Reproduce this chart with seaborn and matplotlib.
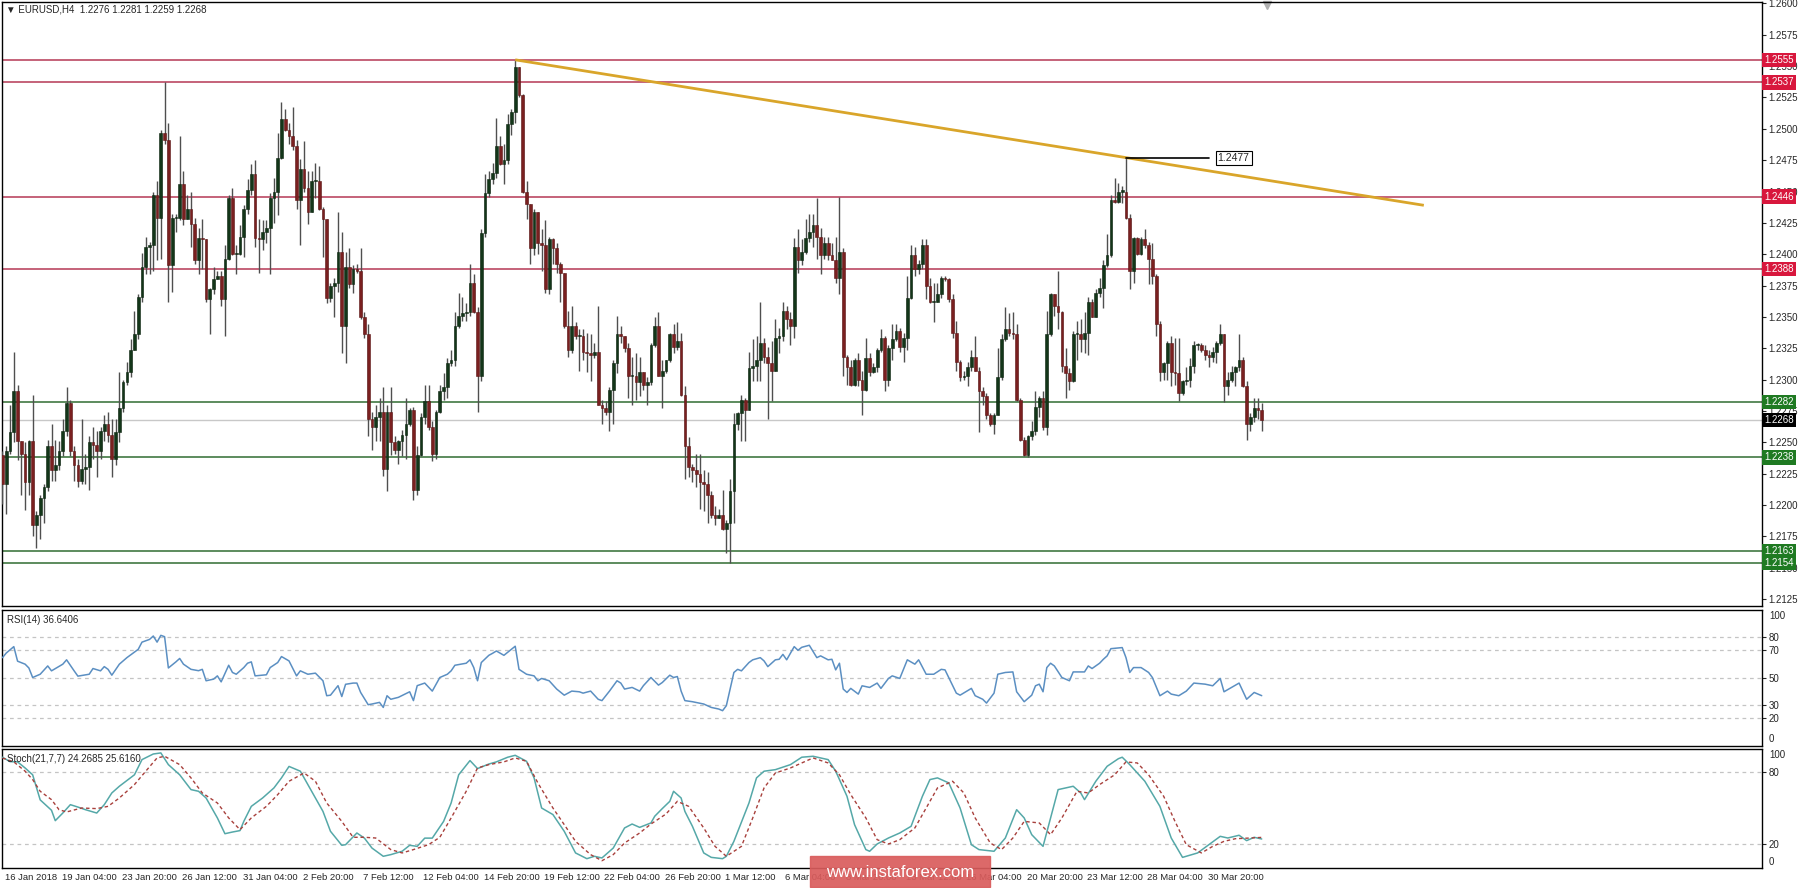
import numpy as np
import matplotlib
matplotlib.use("Agg")
import matplotlib.pyplot as plt
import matplotlib.transforms as mtransforms
from matplotlib.patches import Rectangle
import seaborn as sns

# EURUSD H4 candles (open = previous close)
first_open = 1.2240
closes = [
    1.2217, 1.2243, 1.2258, 1.2291, 1.2251, 1.2241, 1.2218, 1.2251, 1.2184, 1.2192,
    1.2206, 1.2214, 1.2247, 1.2228, 1.2232, 1.2243, 1.2259, 1.2281, 1.2243, 1.2232,
    1.2219, 1.2229, 1.2230, 1.2250, 1.2248, 1.2243, 1.2259, 1.2265, 1.2256, 1.2237,
    1.2258, 1.2277, 1.2298, 1.2306, 1.2324, 1.2336, 1.2366, 1.2390, 1.2406, 1.2407,
    1.2447, 1.2429, 1.2497, 1.2491, 1.2391, 1.2429, 1.2429, 1.2456, 1.2428, 1.2436,
    1.2424, 1.2395, 1.2413, 1.2412, 1.2364, 1.2372, 1.2380, 1.2383, 1.2364, 1.2396,
    1.2445, 1.2400, 1.2400, 1.2414, 1.2436, 1.2451, 1.2464, 1.2413, 1.2412, 1.2418,
    1.2421, 1.2445, 1.2450, 1.2477, 1.2508, 1.2499, 1.2494, 1.2486, 1.2443, 1.2468,
    1.2453, 1.2434, 1.2458, 1.2458, 1.2436, 1.2428, 1.2365, 1.2375, 1.2377, 1.2402,
    1.2343, 1.2390, 1.2376, 1.2388, 1.2387, 1.2350, 1.2336, 1.2269, 1.2262, 1.2270,
    1.2274, 1.2229, 1.2274, 1.2250, 1.2244, 1.2251, 1.2256, 1.2265, 1.2276, 1.2212,
    1.2240, 1.2270, 1.2283, 1.2262, 1.2241, 1.2274, 1.2291, 1.2294, 1.2313, 1.2316,
    1.2343, 1.2351, 1.2353, 1.2354, 1.2377, 1.2354, 1.2303, 1.2417, 1.2449, 1.2460,
    1.2465, 1.2486, 1.2472, 1.2475, 1.2504, 1.2513, 1.2549, 1.2527, 1.2450, 1.2440,
    1.2405, 1.2434, 1.2409, 1.2407, 1.2372, 1.2412, 1.2405, 1.2392, 1.2385, 1.2343,
    1.2324, 1.2343, 1.2335, 1.2335, 1.2322, 1.2321, 1.2320, 1.2322, 1.2280, 1.2277,
    1.2274, 1.2292, 1.2313, 1.2336, 1.2335, 1.2325, 1.2303, 1.2303, 1.2298, 1.2306,
    1.2296, 1.2298, 1.2328, 1.2343, 1.2303, 1.2307, 1.2316, 1.2336, 1.2326, 1.2331,
    1.2288, 1.2247, 1.2230, 1.2228, 1.2225, 1.2218, 1.2217, 1.2208, 1.2192, 1.2190,
    1.2192, 1.2181, 1.2186, 1.2211, 1.2265, 1.2273, 1.2284, 1.2276, 1.2309, 1.2311,
    1.2316, 1.2329, 1.2318, 1.2313, 1.2307, 1.2333, 1.2335, 1.2355, 1.2348, 1.2343,
    1.2406, 1.2395, 1.2402, 1.2413, 1.2418, 1.2423, 1.2414, 1.2399, 1.2409, 1.2399,
    1.2395, 1.2381, 1.2402, 1.2318, 1.2310, 1.2296, 1.2316, 1.2300, 1.2292, 1.2317,
    1.2306, 1.2310, 1.2324, 1.2333, 1.2300, 1.2325, 1.2332, 1.2339, 1.2326, 1.2333,
    1.2365, 1.2399, 1.2388, 1.2392, 1.2407, 1.2375, 1.2362, 1.2362, 1.2368, 1.2381,
    1.2380, 1.2364, 1.2337, 1.2314, 1.2302, 1.2303, 1.2310, 1.2318, 1.2307, 1.2291,
    1.2287, 1.2272, 1.2265, 1.2272, 1.2302, 1.2332, 1.2340, 1.2337, 1.2336, 1.2284,
    1.2252, 1.2240, 1.2255, 1.2259, 1.2278, 1.2285, 1.2262, 1.2336, 1.2368, 1.2359,
    1.2354, 1.2311, 1.2305, 1.2299, 1.2336, 1.2336, 1.2332, 1.2337, 1.2362, 1.2350,
    1.2369, 1.2373, 1.2391, 1.2399, 1.2443, 1.2442, 1.2450, 1.2450, 1.2429, 1.2387,
    1.2413, 1.2400, 1.2412, 1.2407, 1.2396, 1.2383, 1.2344, 1.2306, 1.2313, 1.2329,
    1.2306, 1.2305, 1.2289, 1.2299, 1.2300, 1.2311, 1.2328, 1.2328, 1.2324, 1.2320,
    1.2318, 1.2322, 1.2329, 1.2336, 1.2295, 1.2300, 1.2306, 1.2310, 1.2316, 1.2295,
    1.2265, 1.2270, 1.2277, 1.2276, 1.2268,
]
highs = [
    1.2243, 1.2247, 1.2280, 1.2322, 1.2296, 1.2251, 1.2250, 1.2252, 1.2288, 1.2195,
    1.2208, 1.2217, 1.2252, 1.2265, 1.2252, 1.2251, 1.2269, 1.2294, 1.2284, 1.2247,
    1.2237, 1.2269, 1.2241, 1.2255, 1.2262, 1.2259, 1.2262, 1.2272, 1.2274, 1.2269,
    1.2269, 1.2306, 1.2300, 1.2314, 1.2332, 1.2355, 1.2368, 1.2401, 1.2414, 1.2410,
    1.2450, 1.2458, 1.2499, 1.2537, 1.2505, 1.2432, 1.2432, 1.2494, 1.2466, 1.2447,
    1.2450, 1.2429, 1.2421, 1.2428, 1.2410, 1.2373, 1.2390, 1.2387, 1.2387, 1.2407,
    1.2447, 1.2453, 1.2407, 1.2423, 1.2439, 1.2460, 1.2472, 1.2475, 1.2428, 1.2427,
    1.2427, 1.2449, 1.2461, 1.2497, 1.2521, 1.2516, 1.2505, 1.2517, 1.2491, 1.2476,
    1.2490, 1.2466, 1.2466, 1.2473, 1.2470, 1.2438, 1.2428, 1.2377, 1.2381, 1.2434,
    1.2418, 1.2402, 1.2405, 1.2391, 1.2392, 1.2405, 1.2354, 1.2344, 1.2274, 1.2280,
    1.2285, 1.2294, 1.2280, 1.2294, 1.2255, 1.2252, 1.2260, 1.2285, 1.2277, 1.2278,
    1.2247, 1.2273, 1.2296, 1.2296, 1.2267, 1.2276, 1.2296, 1.2305, 1.2317, 1.2324,
    1.2354, 1.2369, 1.2366, 1.2361, 1.2392, 1.2384, 1.2358, 1.2420, 1.2464, 1.2466,
    1.2473, 1.2509, 1.2494, 1.2488, 1.2512, 1.2516, 1.2555, 1.2549, 1.2528, 1.2458,
    1.2440, 1.2436, 1.2434, 1.2420, 1.2427, 1.2414, 1.2413, 1.2409, 1.2394, 1.2384,
    1.2355, 1.2359, 1.2346, 1.2340, 1.2340, 1.2337, 1.2336, 1.2329, 1.2359, 1.2284,
    1.2283, 1.2294, 1.2316, 1.2351, 1.2343, 1.2335, 1.2329, 1.2318, 1.2321, 1.2318,
    1.2306, 1.2302, 1.2329, 1.2350, 1.2354, 1.2316, 1.2316, 1.2337, 1.2344, 1.2346,
    1.2337, 1.2295, 1.2254, 1.2233, 1.2241, 1.2241, 1.2228, 1.2226, 1.2211, 1.2199,
    1.2197, 1.2212, 1.2188, 1.2221, 1.2273, 1.2274, 1.2288, 1.2285, 1.2322, 1.2332,
    1.2335, 1.2362, 1.2333, 1.2326, 1.2331, 1.2348, 1.2341, 1.2362, 1.2359, 1.2354,
    1.2413, 1.2420, 1.2412, 1.2428, 1.2432, 1.2432, 1.2445, 1.2421, 1.2414, 1.2414,
    1.2409, 1.2414, 1.2446, 1.2405, 1.2320, 1.2316, 1.2317, 1.2321, 1.2307, 1.2333,
    1.2321, 1.2313, 1.2325, 1.2340, 1.2335, 1.2328, 1.2344, 1.2344, 1.2341, 1.2337,
    1.2383, 1.2407, 1.2406, 1.2395, 1.2412, 1.2412, 1.2381, 1.2377, 1.2377, 1.2383,
    1.2383, 1.2381, 1.2368, 1.2347, 1.2316, 1.2307, 1.2314, 1.2324, 1.2335, 1.2310,
    1.2294, 1.2289, 1.2273, 1.2273, 1.2325, 1.2336, 1.2358, 1.2353, 1.2354, 1.2344,
    1.2285, 1.2254, 1.2256, 1.2267, 1.2291, 1.2287, 1.2291, 1.2355, 1.2369, 1.2368,
    1.2387, 1.2355, 1.2325, 1.2309, 1.2339, 1.2347, 1.2348, 1.2354, 1.2366, 1.2364,
    1.2372, 1.2381, 1.2395, 1.2416, 1.2447, 1.2461, 1.2457, 1.2454, 1.2477, 1.2432,
    1.2414, 1.2414, 1.2414, 1.2420, 1.2410, 1.2409, 1.2384, 1.2347, 1.2314, 1.2331,
    1.2335, 1.2333, 1.2333, 1.2300, 1.2310, 1.2317, 1.2331, 1.2329, 1.2329, 1.2328,
    1.2324, 1.2326, 1.2331, 1.2344, 1.2336, 1.2306, 1.2311, 1.2311, 1.2336, 1.2318,
    1.2299, 1.2273, 1.2285, 1.2285, 1.2281,
]
lows = [
    1.2201, 1.2193, 1.2241, 1.2250, 1.2236, 1.2208, 1.2196, 1.2208, 1.2175, 1.2166,
    1.2173, 1.2186, 1.2211, 1.2219, 1.2219, 1.2228, 1.2239, 1.2255, 1.2239, 1.2219,
    1.2214, 1.2217, 1.2217, 1.2212, 1.2237, 1.2222, 1.2237, 1.2251, 1.2250, 1.2222,
    1.2232, 1.2250, 1.2274, 1.2296, 1.2302, 1.2329, 1.2332, 1.2362, 1.2384, 1.2384,
    1.2387, 1.2395, 1.2396, 1.2488, 1.2362, 1.2370, 1.2418, 1.2427, 1.2423, 1.2428,
    1.2406, 1.2392, 1.2384, 1.2388, 1.2362, 1.2336, 1.2368, 1.2380, 1.2359, 1.2335,
    1.2395, 1.2399, 1.2384, 1.2399, 1.2398, 1.2432, 1.2447, 1.2406, 1.2385, 1.2403,
    1.2409, 1.2384, 1.2425, 1.2431, 1.2476, 1.2498, 1.2488, 1.2483, 1.2436, 1.2407,
    1.2450, 1.2424, 1.2447, 1.2445, 1.2435, 1.2398, 1.2361, 1.2362, 1.2350, 1.2370,
    1.2321, 1.2313, 1.2373, 1.2369, 1.2385, 1.2348, 1.2333, 1.2255, 1.2244, 1.2251,
    1.2251, 1.2223, 1.2211, 1.2240, 1.2241, 1.2233, 1.2239, 1.2237, 1.2263, 1.2204,
    1.2208, 1.2239, 1.2265, 1.2260, 1.2235, 1.2237, 1.2273, 1.2284, 1.2285, 1.2311,
    1.2311, 1.2341, 1.2347, 1.2347, 1.2351, 1.2353, 1.2274, 1.2299, 1.2414, 1.2446,
    1.2456, 1.2461, 1.2471, 1.2456, 1.2472, 1.2495, 1.2505, 1.2525, 1.2449, 1.2428,
    1.2392, 1.2399, 1.2400, 1.2387, 1.2369, 1.2368, 1.2392, 1.2385, 1.2362, 1.2341,
    1.2318, 1.2321, 1.2332, 1.2307, 1.2316, 1.2306, 1.2299, 1.2317, 1.2280, 1.2265,
    1.2272, 1.2259, 1.2265, 1.2305, 1.2329, 1.2322, 1.2285, 1.2280, 1.2284, 1.2287,
    1.2292, 1.2280, 1.2296, 1.2326, 1.2303, 1.2277, 1.2305, 1.2314, 1.2321, 1.2324,
    1.2287, 1.2221, 1.2222, 1.2218, 1.2214, 1.2197, 1.2195, 1.2186, 1.2190, 1.2184,
    1.2190, 1.2180, 1.2162, 1.2154, 1.2186, 1.2260, 1.2251, 1.2251, 1.2276, 1.2299,
    1.2299, 1.2299, 1.2313, 1.2269, 1.2283, 1.2307, 1.2321, 1.2331, 1.2340, 1.2328,
    1.2333, 1.2385, 1.2391, 1.2400, 1.2410, 1.2406, 1.2396, 1.2384, 1.2396, 1.2395,
    1.2395, 1.2377, 1.2368, 1.2303, 1.2296, 1.2295, 1.2295, 1.2295, 1.2272, 1.2291,
    1.2303, 1.2305, 1.2306, 1.2322, 1.2291, 1.2295, 1.2316, 1.2331, 1.2322, 1.2314,
    1.2324, 1.2364, 1.2383, 1.2384, 1.2388, 1.2364, 1.2361, 1.2346, 1.2362, 1.2365,
    1.2379, 1.2362, 1.2333, 1.2307, 1.2299, 1.2300, 1.2295, 1.2307, 1.2307, 1.2258,
    1.2280, 1.2269, 1.2263, 1.2257, 1.2277, 1.2300, 1.2331, 1.2335, 1.2332, 1.2283,
    1.2251, 1.2239, 1.2238, 1.2252, 1.2256, 1.2270, 1.2260, 1.2256, 1.2335, 1.2351,
    1.2340, 1.2306, 1.2285, 1.2292, 1.2298, 1.2316, 1.2322, 1.2321, 1.2320, 1.2350,
    1.2350, 1.2366, 1.2357, 1.2390, 1.2398, 1.2441, 1.2441, 1.2441, 1.2428, 1.2372,
    1.2377, 1.2399, 1.2399, 1.2405, 1.2376, 1.2376, 1.2335, 1.2299, 1.2300, 1.2300,
    1.2295, 1.2296, 1.2283, 1.2288, 1.2296, 1.2294, 1.2305, 1.2324, 1.2322, 1.2316,
    1.2310, 1.2314, 1.2313, 1.2328, 1.2282, 1.2288, 1.2298, 1.2295, 1.2307, 1.2294,
    1.2252, 1.2259, 1.2266, 1.2269, 1.2259,
]

# RSI(14), sampled along the bars
rsi_idx = [
    0, 1, 3, 4, 6, 7, 8, 10, 12, 13, 16, 17, 19, 20, 23, 24, 26, 27, 28, 29,
    31, 33, 36, 37, 39, 40, 41, 42, 43, 44, 46, 47, 48, 50, 52, 53, 54, 56, 57, 58,
    60, 61, 62, 64, 65, 66, 67, 70, 71, 73, 74, 76, 78, 79, 81, 83, 85, 86, 87, 89,
    90, 91, 93, 94, 95, 97, 98, 100, 101, 102, 103, 105, 108, 109, 110, 112, 114, 116, 118, 119,
    120, 123, 124, 125, 126, 127, 129, 130, 131, 133, 135, 136, 137, 139, 141, 142, 143, 145, 147, 149,
    151, 153, 154, 156, 158, 159, 161, 163, 164, 165, 167, 169, 170, 172,
    174, 175, 177, 178, 179, 180, 181, 183, 186, 188, 190, 191, 192, 194, 195, 196, 198, 199, 201, 202,
    203, 205, 206, 207, 208, 210, 211, 212, 214, 216, 217, 219, 220, 221, 222, 223, 224, 225, 227, 228,
    230, 232, 233, 235, 236, 238, 240, 242, 243, 245, 247, 249, 250, 253, 254, 257, 258, 260, 261, 263,
    264, 266, 268, 269, 271, 273, 274, 275, 276, 277, 278, 279, 281, 283, 284, 287, 288, 289, 291, 292,
    293, 294, 297, 298, 299, 300, 302, 304, 305, 307, 309, 310, 312, 314, 316, 319, 321, 323, 324, 328,
    330, 332, 334,
]
rsi_val = [
    64.6, 68, 72.7, 62, 59.8, 57, 50, 52.4, 58.5, 54.9, 59.8, 63, 54.9, 51, 52.4, 56.6, 54.9, 58, 56, 51.7,
    59.8, 64.6, 70.7, 76, 78, 80.5, 76, 81, 80, 57, 61.5, 64, 59.8, 56, 55, 56, 47.6, 48.8, 51.2, 46.8,
    59, 53.7, 52.4, 57.3, 60.5, 61.5, 51.2, 52, 57.3, 61, 65.4, 62.2, 51.2, 54.9, 52.4, 53.2, 47.6, 36.6, 37, 44,
    36, 45, 45.9, 45.9, 39, 30, 30.5, 31.7, 28, 36.6, 34, 35.4, 39.5, 33, 44, 45.9, 40, 50, 52.4, 54.9,
    59, 60.5, 63, 57.3, 47.6, 61, 66.3, 67.8, 69.5, 66.3, 70.7, 73, 56, 52.4, 51.2, 47.6, 49.3, 47.6, 41.5, 37,
    40, 39.5, 38.5, 40, 34, 33, 40, 47.6, 45.9, 41.5, 42.7, 40, 44, 50,
    44.4, 46.3, 51.7, 50, 50.7, 40, 33, 32.2, 30.5, 28, 26.8, 25.6, 29.3, 53.7, 56, 54.9, 61, 63, 64.6, 62.2,
    58, 63, 63.4, 67, 63, 72.7, 70, 72.2, 73.7, 64.6, 65.9, 63, 63.4, 55.6, 60.5, 41.5, 39, 42, 37.8, 43.9,
    42.7, 45.9, 42, 49.3, 51.2, 49.3, 63, 59.8, 63, 52.4, 52.4, 56, 55.6, 38.5, 37, 42, 36.6, 34, 31.2, 38.5,
    52.4, 53.7, 54.1, 39.5, 32.2, 37, 43.9, 45.1, 39.5, 57.3, 60.5, 58.5, 50, 47.6, 54.1, 54.1, 58.5, 56.6, 60.5, 63.4,
    65.9, 71.2, 72, 64.6, 53.7, 57.3, 57.3, 53.7, 50, 36.6, 40, 37.8, 36.6, 40, 45.9, 45.1, 43.9, 49.3, 39.5, 45.9,
    34, 39, 36.64,
]

# Stochastic(21,7,7): main (%K) and signal (%D)
stoch_k_idx = [
    0, 2, 4, 6, 8, 10, 13, 14, 16, 18, 20, 22, 25, 27, 29, 31, 35, 37, 40, 42,
    44, 47, 50, 52, 54, 57, 59, 61, 63, 64, 66, 69, 72, 74, 76, 79, 81, 83, 85, 87,
    90, 91, 94, 96, 98, 101, 103, 106, 108, 110, 112, 114, 117, 119, 121, 124, 126, 129, 131, 134,
    136, 139, 141, 143, 146, 149, 152, 155, 157, 159, 162, 165, 167, 169, 172,
    173, 175, 177, 178, 180, 181, 183, 186, 188, 191, 192, 194, 198, 200, 202, 205, 209, 212, 215, 219,
    221, 224, 226, 229, 230, 232, 235, 238, 241, 244, 246, 248, 251, 254, 257, 259, 263, 266, 269, 271,
    273, 276, 278, 280, 284, 286, 287, 290, 293, 296, 297, 299, 303, 307, 310, 313, 317, 320, 323, 325,
    328, 330, 332, 334,
]
stoch_k_val = [
    92.7, 89, 88.8, 83.7, 78, 57, 48.3, 39.6, 46, 53, 51, 48.8, 46, 53, 62.8, 68.4, 78, 90.7, 95.4, 96.3,
    86.5, 78, 65.6, 64.2, 58.6, 41.9, 28.7, 30.1, 31.3, 39, 51.6, 58.6, 67, 75.4, 85, 81, 69.8, 58.6, 47.4, 30.7,
    19, 19.5, 29.3, 25, 16.7, 9.8, 11.2, 14, 19, 18.1, 25, 25, 39, 54.4, 78, 89.9, 83.2, 87, 88.8, 92.7,
    94.3, 89.3, 75.4, 50.2, 44.7, 30.7, 12.6, 7.8, 9.8, 8.4, 16.7, 33.5, 36.8, 34, 37.7,
    43.3, 49.7, 55.8, 64.2, 58.6, 47.4, 34.9, 12.6, 8.9, 7.8, 9.8, 22.3, 54.4, 75.4, 81, 82.3, 86.5, 92.7, 93.5, 90.7,
    81, 60, 36.3, 15.4, 14, 20.1, 25.1, 29.3, 34.9, 60, 74, 75.4, 71.2, 50.2, 19.5, 15.4, 14, 25.1, 48.8, 41.9,
    27.9, 18.1, 41.9, 65.6, 68.4, 62.8, 57.2, 72.6, 85.1, 91.5, 92.7, 86.5, 72.6, 51.6, 25.1, 8.9, 12.6, 19.5, 26.5, 25.1,
    27.4, 22.9, 25.7, 24.27,
]
stoch_d_idx = [
    0, 3, 6, 8, 10, 13, 15, 17, 21, 25, 28, 31, 35, 38, 41, 43, 47, 50, 53, 57,
    60, 63, 66, 70, 73, 76, 80, 83, 86, 90, 93, 96, 99, 103, 106, 109, 113, 116, 119, 123,
    126, 129, 133, 136, 139, 142, 146, 149, 152, 156, 159, 162, 165, 169, 172,
    176, 179, 182, 186, 189, 192, 196, 199, 202, 205, 209, 212, 215, 219, 222, 225, 229, 232, 235, 238,
    242, 245, 248, 252, 255, 258, 262, 265, 268, 271, 275, 278, 281, 285, 288, 291, 295, 298, 301, 304,
    308, 311, 314, 318, 321, 324, 327, 331, 334,
]
stoch_d_val = [
    92, 88.8, 81, 74, 64.2, 57.2, 48.8, 46.9, 50.2, 49.7, 51.6, 58.6, 69.8, 81, 92.1, 93.5, 86.5, 75.4, 62.8, 54.4,
    41.9, 32.1, 41.9, 51.6, 61.4, 72.6, 79.5, 72.6, 54.4, 39, 25.7, 25.7, 25.1, 15.4, 12.6, 15.4, 19.5, 25.7, 41.9, 64.2,
    83.7, 86.5, 88.8, 92.1, 89.3, 71.2, 50.2, 36.3, 22.3, 11.2, 6.1, 11.2, 20.9, 29.3, 36.8,
    45.2, 55.8, 51.6, 33.5, 18.1, 9.8, 18.1, 41.9, 67, 79.5, 83.7, 87.9, 92.1, 87.9, 78, 61.4, 41.9, 23.7, 20.1, 23.7,
    33.5, 50.2, 67, 72.6, 62.8, 41.9, 20.9, 15.4, 25.1, 39, 37.7, 27.9, 41.9, 64.2, 62.8, 69.8, 78, 88.8, 87.9, 78,
    60, 39, 19.5, 12.6, 18.1, 22.3, 24.5, 25.1, 25.616,
]

resistance_levels = [1.2555, 1.2537, 1.2446, 1.2388]
support_levels = [1.2282, 1.2238, 1.2163, 1.2154]
last_price = 1.2268
trend_idx = [136, 377]
trend_price = [1.2555, 1.2439]
marked_idx = 298
marked_price = 1.2477

date_idx = [0, 15, 31, 47, 63, 79, 95, 111, 127, 143, 159, 175, 191, 207, 223, 239, 255, 271, 287, 303, 319]
date_labels = ["16 Jan 2018", "19 Jan 04:00", "23 Jan 20:00", "26 Jan 12:00", "31 Jan 04:00",
               "2 Feb 20:00", "7 Feb 12:00", "12 Feb 04:00", "14 Feb 20:00", "19 Feb 12:00",
               "22 Feb 04:00", "26 Feb 20:00", "1 Mar 12:00", "6 Mar 04:00", "8 Mar 20:00",
               "13 Mar 12:00", "16 Mar 04:00", "20 Mar 20:00", "23 Mar 12:00", "28 Mar 04:00",
               "30 Mar 20:00"]
price_ticks = [1.2125, 1.2150, 1.2175, 1.2200, 1.2225, 1.2250, 1.2275, 1.2300, 1.2325, 1.2350,
               1.2375, 1.2400, 1.2425, 1.2450, 1.2475, 1.2500, 1.2525, 1.2550, 1.2575, 1.2600]

# ---- style ----
sns.set_style("white")
plt.rcParams["font.family"] = ["Liberation Sans", "DejaVu Sans"]

W, H = 1800, 888
BULL, BEAR = "#133619", "#7a2020"
RED_LINE, GREEN_LINE = "#c0566e", "#4f8250"
RED_BOX, GREEN_BOX = "#d8173d", "#1f7a22"
GRID = "#c4c4c4"

fig = plt.figure(figsize=(W / 100, H / 100), dpi=100)


def px_rect(x0, y0, x1, y1):
    return [x0 / W, 1 - y1 / H, (x1 - x0) / W, (y1 - y0) / H]


ax = fig.add_axes(px_rect(2, 2, 1762, 606))
ax_rsi = fig.add_axes(px_rect(2, 609.5, 1762, 745.5))
ax_st = fig.add_axes(px_rect(2, 748.5, 1762, 868))

for a in (ax, ax_rsi, ax_st):
    a.set_xlim(-0.13, 466.7)
    a.set_facecolor("white")
    for s in a.spines.values():
        s.set_color("black")
        s.set_linewidth(1)
    a.yaxis.tick_right()
    a.tick_params(axis="y", direction="out", length=3, width=0.8, labelsize=7, pad=1.5)
    a.set_xticks([])

# ---- price panel ----
ax.set_ylim(1.21195, 1.26011)
c = np.array(closes)
o = np.r_[first_open, c[:-1]]
h = np.maximum(np.array(highs), np.maximum(o, c))
l = np.minimum(np.array(lows), np.minimum(o, c))
idx = np.arange(len(c))
up = c >= o

ax.axhline(last_price, color="#c8c8c8", lw=1, zorder=1)
for p in resistance_levels:
    ax.axhline(p, color=RED_LINE, lw=1.3, zorder=2)
for p in support_levels:
    ax.axhline(p, color=GREEN_LINE, lw=1.3, zorder=2)

ax.vlines(idx, l, h, color="#4f4f4f", lw=1, zorder=3)
ax.bar(idx, np.maximum(np.abs(c - o), 0.00008), bottom=np.minimum(o, c), width=0.72,
       color=np.where(up, BULL, BEAR), edgecolor=np.where(up, "#0b220e", "#5a1414"),
       linewidth=0.4, zorder=4)

ax.plot(trend_idx, trend_price, color="#d9a52a", lw=2, zorder=5, solid_capstyle="butt")
ax.plot([marked_idx, 320], [marked_price, marked_price], color="black", lw=1.2, zorder=6)
ax.text(322.3, marked_price, f"{marked_price:.4f}", fontsize=7.5, va="center", ha="left", zorder=7,
        bbox=dict(boxstyle="square,pad=0.2", fc="white", ec="black", lw=0.8))

ax.set_yticks(price_ticks)
ax.set_yticklabels([f"{t:.4f}" for t in price_ticks])

label_tr = mtransforms.blended_transform_factory(ax.transAxes, ax.transData)
for levels, fc in ((resistance_levels, RED_BOX), (support_levels, GREEN_BOX), ([last_price], "black")):
    for p in levels:
        ax.text(1.0013, p, f"{p:.4f}", transform=label_tr, fontsize=7, color="white",
                va="center", ha="left", zorder=10, clip_on=False,
                bbox=dict(boxstyle="square,pad=0.22", fc=fc, ec="none"))

ax.plot([0.7188], [0.995], marker="v", color="#b0b0b0", ms=6, transform=ax.transAxes, clip_on=False)

# ---- RSI panel ----
ax_rsi.set_ylim(0, 100)
for lv in (80, 70, 50, 30, 20):
    ax_rsi.axhline(lv, color=GRID, lw=0.9, ls=(0, (3, 3)), zorder=1)
sns.lineplot(x=rsi_idx, y=rsi_val, ax=ax_rsi, color="#5b8fc2", lw=1.1, zorder=3)
ax_rsi.set_yticks([20, 30, 50, 70, 80])
ax_rsi.set_yticklabels(["20", "30", "50", "70", "80"])

# ---- Stochastic panel ----
ax_st.set_ylim(0, 100)
for lv in (80, 20):
    ax_st.axhline(lv, color=GRID, lw=0.9, ls=(0, (3, 3)), zorder=1)
sns.lineplot(x=stoch_k_idx, y=stoch_k_val, ax=ax_st, color="#55a8a8", lw=1.1, zorder=3)
sns.lineplot(x=stoch_d_idx, y=stoch_d_val, ax=ax_st, color="#a8403c", lw=1.0, ls=(0, (2.5, 2)), zorder=3)
ax_st.set_yticks([20, 80])
ax_st.set_yticklabels(["20", "80"])

for a in (ax_rsi, ax_st):
    a.set_xlabel("")
    a.set_ylabel("")
    tr = mtransforms.blended_transform_factory(a.transAxes, a.transData)
    a.text(1.004, 99, "100", transform=tr, fontsize=7, va="top", ha="left")
    a.text(1.004, 1, "0", transform=tr, fontsize=7, va="bottom", ha="left")

ax_st.set_xticks(date_idx)
ax_st.set_xticklabels([])
ax_st.tick_params(axis="x", direction="out", length=12, width=0.8, color="#333333")
date_tr = mtransforms.offset_copy(
    mtransforms.blended_transform_factory(ax_st.transData, ax_st.transAxes), fig=fig, x=2.5, units="dots")
for i, lab in zip(date_idx, date_labels):
    ax_st.text(i, -0.08, lab, transform=date_tr, fontsize=6.8, ha="left", va="center")

# ---- captions ----
fig.text(6 / W, 1 - 9.5 / H, "\u25bc EURUSD,H4  1.2276 1.2281 1.2259 1.2268", fontsize=7, va="center")
fig.text(7 / W, 1 - 620 / H, "RSI(14) 36.6406", fontsize=7, va="center")
fig.text(7 / W, 1 - 758.5 / H, "Stoch(21,7,7) 24.2685 25.6160", fontsize=7, va="center")

# watermark
fig.patches.append(Rectangle((810 / W, 1 - 887 / H), 180 / W, 31 / H, transform=fig.transFigure,
                             color="#d95c5c", alpha=0.92, zorder=20))
fig.text(900 / W, 1 - 872 / H, "www.instaforex.com", color="white", fontsize=12,
         ha="center", va="center", zorder=21)

fig.savefig("out.png", dpi=100, facecolor="white")
